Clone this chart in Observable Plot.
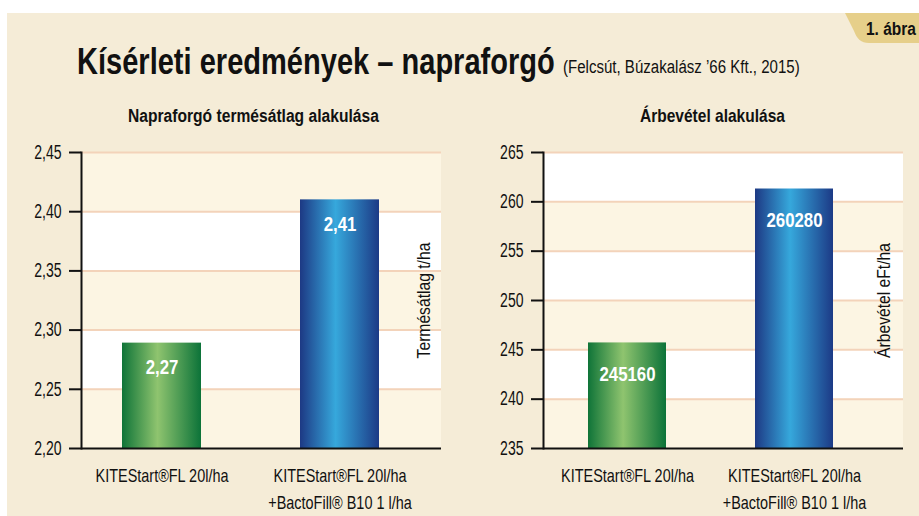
<!DOCTYPE html>
<html>
<head>
<meta charset="utf-8">
<script src="https://cdn.jsdelivr.net/npm/d3@7"></script>
<script src="https://cdn.jsdelivr.net/npm/@observablehq/plot@0.6"></script>
<style>
  html, body { margin: 0; padding: 0; background: #ffffff; }
  #page { position: relative; width: 919px; height: 516px; overflow: hidden; background: #ffffff;
          font-family: "Liberation Sans", Arial, sans-serif; }
  #bg { position: absolute; left: 7px; top: 13px; right: 0; bottom: 0; background: #f5ecd7; }
  #head { position: absolute; left: 0; top: 0; }
  #left { position: absolute; left: 0; top: 130px; }
  #right { position: absolute; left: 460px; top: 130px; }
  svg text { font-family: "Liberation Sans", Arial, sans-serif; }
</style>
</head>
<body>
<div id="page">
  <div id="bg"></div>
  <svg width="0" height="0" style="position:absolute">
    <defs>
      <linearGradient id="gradGreen" x1="0" x2="1" y1="0" y2="0">
        <stop offset="0%" stop-color="#0f7438"/>
        <stop offset="45%" stop-color="#8fc46f"/>
        <stop offset="100%" stop-color="#0c7339"/>
      </linearGradient>
      <linearGradient id="gradBlue" x1="0" x2="1" y1="0" y2="0">
        <stop offset="0%" stop-color="#1d3984"/>
        <stop offset="45%" stop-color="#36a8dc"/>
        <stop offset="100%" stop-color="#1c3a86"/>
      </linearGradient>
    </defs>
  </svg>
  <svg id="head" width="919" height="130">
    <path d="M845,13 H919 V43 H869 C861,43 857,39 854,31 Z" fill="#e6cf8a"/>
    <text class="fit" data-x="866" data-y="35" data-w="50" font-size="19" font-weight="bold" fill="#111">1. ábra</text>
    <text class="fit" data-x="77" data-y="74" data-w="478" font-size="37" font-weight="bold" fill="#111">Kísérleti eredmények – napraforgó</text>
    <text class="fit" data-x="563" data-y="73" data-w="237" font-size="18" fill="#111">(Felcsút, Búzakalász ’66 Kft., 2015)</text>
    <text class="fit" data-x="128" data-y="122" data-w="251" font-size="18" font-weight="bold" fill="#111">Napraforgó termésátlag alakulása</text>
    <text class="fit" data-x="640" data-y="122" data-w="145" font-size="18" font-weight="bold" fill="#111">Árbevétel alakulása</text>
  </svg>
  <div id="left"></div>
  <div id="right"></div>
</div>
<script>
// ---- data ----
const categories = ["KITEStart®FL 20l/ha", "KITEStart®FL 20l/ha\n+BactoFill® B10 1 l/ha"];

const yieldValues = [2.289, 2.41];          // bar heights as drawn (t/ha)
const yieldLabels = ["2,27", "2,41"];
const yieldTicks = [2.20, 2.25, 2.30, 2.35, 2.40, 2.45];
const yieldAxisLabel = "Termésátlag t/ha";

const revenueValues = [245.7, 261.3];       // bar heights as drawn (eFt/ha)
const revenueLabels = ["245160", "260280"];
const revenueTicks = [235, 240, 245, 250, 255, 260, 265];
const revenueAxisLabel = "Árbevétel eFt/ha";

const barFills = ["url(#gradGreen)", "url(#gradBlue)"];

const CREAM = "#fcf5e3";
const WHITE = "#ffffff";
const GRID = "#f3d3ba";
const INK = "#111111";
const FONT = '"Liberation Sans", Arial, sans-serif';

// header texts: squeeze horizontally to the condensed width of the original
document.querySelectorAll("#head text.fit").forEach(t => {
  const w = t.getComputedTextLength();
  const s = (+t.dataset.w) / w;
  t.setAttribute("transform", `translate(${t.dataset.x},${t.dataset.y}) scale(${s.toFixed(4)},1)`);
});

function makeChart({values, labels, ticks, fmt, yLabel, width, marginLeft, marginRight,
                    paddingInner, paddingOuter, align, labelDy, yLabelDx}) {
  const data = categories.map((c, i) => ({cat: c, value: values[i], label: labels[i]}));
  const bands = ticks.slice(0, -1).map((t, i) => ({lo: t, hi: ticks[i + 1], fill: i % 2 === 0 ? CREAM : WHITE}));
  const base = ticks[0];
  return Plot.plot({
    width, height: 386,
    marginTop: 22, marginBottom: 68, marginLeft, marginRight,
    style: {background: "transparent", color: INK, fontFamily: FONT, overflow: "visible"},
    x: {domain: categories, paddingInner, paddingOuter, align, axis: null},
    y: {domain: [ticks[0], ticks[ticks.length - 1]], axis: null},
    color: {type: "identity"},
    marks: [
      Plot.rectY(bands, {y1: "lo", y2: "hi", fill: "fill"}),
      Plot.ruleY(ticks.slice(1), {stroke: GRID, strokeWidth: 2}),
      Plot.barY(data.filter((d, i) => i === 0), {x: "cat", y1: base, y2: "value", fill: barFills[0]}),
      Plot.barY(data.filter((d, i) => i === 1), {x: "cat", y1: base, y2: "value", fill: barFills[1]}),
      Plot.text(data, {x: "cat", y: "value", text: "label", dy: labelDy, fill: "white", fontWeight: "bold", fontSize: 21}),
      Plot.text([yLabel], {frameAnchor: "right", textAnchor: "middle", rotate: -90, dx: yLabelDx, fontSize: 18, fill: INK}),
      Plot.axisY({ticks, tickFormat: fmt, tickSize: 12, tickPadding: 8, fontSize: 19.5,
                  stroke: INK, strokeWidth: 2, label: null}),
      Plot.axisX({tickSize: 0, tickPadding: 12, dy: 2, fontSize: 19, lineHeight: 1.42, label: null}),
      Plot.ruleY([base], {stroke: INK, strokeWidth: 2}),
      Plot.frame({anchor: "left", stroke: INK, strokeWidth: 2})
    ]
  });
}

// squeeze glyphs horizontally to imitate the condensed typeface of the original
function condense(els, factor) {
  els.forEach(t => {
    const spans = t.querySelectorAll("tspan");
    const parts = spans.length ? [...spans] : [t];
    parts.forEach(e => {
      const w = e.getComputedTextLength();
      if (w > 0) {
        e.setAttribute("textLength", (w * factor).toFixed(1));
        e.setAttribute("lengthAdjust", "spacingAndGlyphs");
      }
    });
  });
}

function styleTexts(svg) {
  condense([...svg.querySelectorAll('g[aria-label="y-axis tick label"] text')], 0.72);
  condense([...svg.querySelectorAll('g[aria-label="x-axis tick label"] text')], 0.76);
  const marksText = [...svg.querySelectorAll('g[aria-label="text"] text')];
  const rotated = marksText.filter(t => (t.getAttribute("transform") || "").includes("rotate"));
  const flat = marksText.filter(t => !rotated.includes(t));
  condense(flat, 0.8);
  condense(rotated, 0.87);
}

const leftSvg = makeChart({
  values: yieldValues, labels: yieldLabels, ticks: yieldTicks,
  fmt: d => d.toFixed(2).replace(".", ","), yLabel: yieldAxisLabel,
  width: 460, marginLeft: 81, marginRight: 19,
  paddingInner: 0.557, paddingOuter: 0.287, align: 0.40, labelDy: 24, yLabelDx: -17
});
document.getElementById("left").append(leftSvg);
styleTexts(leftSvg);

const rightSvg = makeChart({
  values: revenueValues, labels: revenueLabels, ticks: revenueTicks,
  fmt: d => String(d), yLabel: revenueAxisLabel,
  width: 459, marginLeft: 83, marginRight: 16,
  paddingInner: 0.533, paddingOuter: 0.344, align: 0.394, labelDy: 31, yLabelDx: -19
});
document.getElementById("right").append(rightSvg);
styleTexts(rightSvg);
</script>
</body>
</html>
